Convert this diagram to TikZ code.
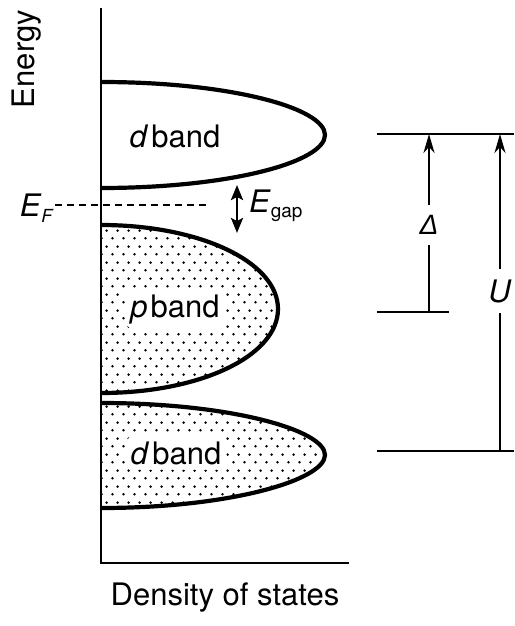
\documentclass[tikz,border=0pt]{standalone}
\usepackage{fontspec}
\setmainfont{TeX Gyre Heros}
\newfontfamily\grk{Liberation Sans}
\usetikzlibrary{arrows.meta,patterns.meta}
\tikzdeclarepattern{
  name=sparsedots,
  type=colored,
  bounding box={(0pt,0pt) and (11pt,16pt)},
  tile size={(11pt,16pt)},
  code={
    \fill[black] (2.75pt,4pt) circle (1.5pt);
    \fill[black] (8.25pt,12pt) circle (1.5pt);
  }
}
\tikzset{
  lbl/.style={font=\fontsize{31}{34}\selectfont, inner sep=1pt},
  bandlbl/.style={lbl, fill=white, inner sep=5pt, rounded corners=8pt},
  band/.style={line width=4.2pt},
  axis/.style={line width=2.6pt},
  level/.style={line width=2.4pt},
  dim/.style={line width=2.2pt},
  dimhead/.style={-{Stealth[length=19pt,width=11pt,inset=6pt]}},
}
\begin{document}
\begin{tikzpicture}[x=1pt,y=-1pt]
\useasboundingbox (0,0) rectangle (514,626);
% pattern fills
\fill[pattern=sparsedots] (101,225) .. controls (200,225) and (278,262) .. (278,309)
   .. controls (278,356) and (200,393) .. (101,393) -- cycle;
\fill[pattern=sparsedots] (101,403) .. controls (230,403) and (325,430) .. (325,455)
   .. controls (325,480) and (230,508) .. (101,508) -- cycle;
% band outlines
\draw[band] (101,82) .. controls (230,82) and (325,108) .. (325,135)
   .. controls (325,162) and (230,188) .. (101,188);
\draw[band] (101,225) .. controls (200,225) and (278,262) .. (278,309)
   .. controls (278,356) and (200,393) .. (101,393);
\draw[band] (101,403) .. controls (230,403) and (325,430) .. (325,455)
   .. controls (325,480) and (230,508) .. (101,508);
% axes
\coordinate (ytop) at (101,8);
\coordinate (orig) at (101,563);
\coordinate (xend) at (349,563);
\draw[axis] (ytop) -- (orig) -- (xend);
% band labels
\node[lbl] (dup) at (175,136) {\textit{d}\hspace{0.1em}band};
\node[bandlbl] (pb) at (175,309) {\textit{p}\hspace{0.1em}band};
\node[bandlbl] (dlo) at (176,453) {\textit{d}\hspace{0.1em}band};
% axis labels
\node[lbl, rotate=90] (en) at (27,59) {Energy};
\node[lbl] (dos) at (225,598) {Density of states};
% Fermi level
\node[lbl, anchor=east] (ef) at (55,208) {\textit{E}\raisebox{-6pt}{\fontsize{18}{20}\selectfont\textit{F}}};
\coordinate (efend) at (210,205);
\draw[line width=2.2pt, dash pattern=on 7pt off 5pt] (ef.east |- efend) -- (efend);
% gap
\coordinate (gtop) at (237,185);
\coordinate (gbot) at (237,233);
\draw[line width=2.6pt, {Stealth[length=15pt,width=12pt,inset=3pt]}-{Stealth[length=15pt,width=12pt,inset=3pt]}] (gtop) -- (gbot);
\node[lbl, anchor=west] (eg) at (248,206) {\textit{E}\raisebox{-5pt}{\fontsize{19}{20}\selectfont gap}};
% levels
\coordinate (l1a) at (377,134); \coordinate (l1b) at (514,134);
\coordinate (l2a) at (377,312); \coordinate (l2b) at (449,312);
\coordinate (l3a) at (377,451); \coordinate (l3b) at (514,451);
\draw[level] (l1a) -- (l1b);
\draw[level] (l2a) -- (l2b);
\draw[level] (l3a) -- (l3b);
% Delta
\coordinate (dtop) at (429,134);
\coordinate (dbot) at (429,312);
\node[font=\grk\fontsize{28}{30}\selectfont, minimum height=40pt, inner sep=0pt] (dl) at (429,225) {\textit{Δ}};
\draw[dim] (dbot) -- (dl);
\draw[dim, dimhead] (dl) -- (dtop);
% U
\coordinate (utop) at (500,134);
\coordinate (ubot) at (500,451);
\node[lbl, minimum height=44pt, inner sep=0pt] (ul) at (500,291) {\textit{U}};
\draw[dim] (ubot) -- (ul);
\draw[dim, dimhead] (ul) -- (utop);
\end{tikzpicture}
\end{document}
